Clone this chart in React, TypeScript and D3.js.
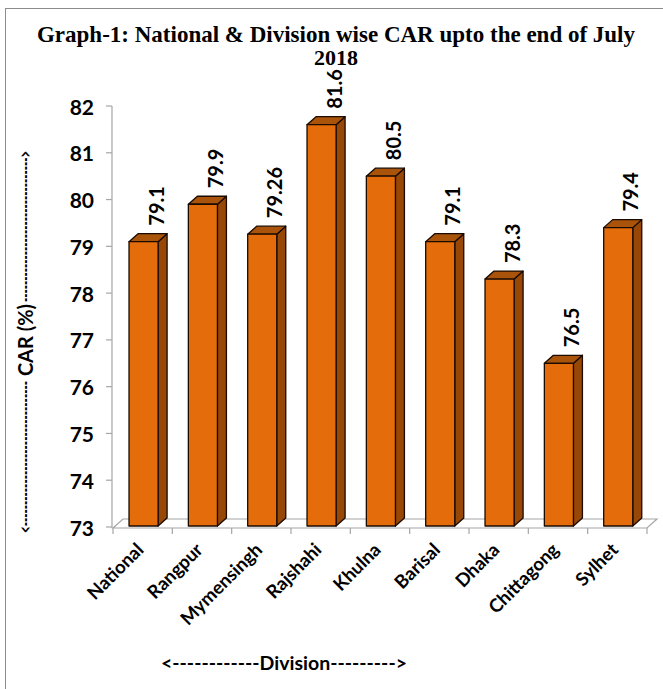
import React from 'react';
import * as d3 from 'd3';

const categories = ['National', 'Rangpur', 'Mymensingh', 'Rajshahi', 'Khulna', 'Barisal', 'Dhaka', 'Chittagong', 'Sylhet'];
const carValues = [79.1, 79.9, 79.26, 81.6, 80.5, 79.1, 78.3, 76.5, 79.4];
const yTicks = [73, 74, 75, 76, 77, 78, 79, 80, 81, 82];

const W = 663;
const H = 689;
const left = 113;
const right = 647;
const top = 106;
const bottom = 527;
const depthX = 10;
const depthY = 9;
const barDx = 9;
const barDy = 8;

const FRONT = '#E46C0A';
const SIDE = '#974706';
const TOPC = '#A9540A';
const GRID = '#A6A6A6';
const sans = 'Lato, "Open Sans", sans-serif';
const serif = '"Liberation Serif", "Times New Roman", serif';

const App = () => {
  const x = d3.scaleBand().domain(categories).range([left, right]).padding(0);
  const y = d3.scaleLinear().domain([73, 82]).range([bottom, top]);
  const bw = x.bandwidth();
  const barW = bw * 0.49;

  return (
    <svg width={W} height={H} style={{ position: 'absolute', left: 0, top: 0, background: '#fff' }}>
      <rect x={5.5} y={8.5} width={700} height={700} fill="#fff" stroke="#8c8c8c" strokeWidth={1} />

      <text x={336} y={42} textAnchor="middle" fontFamily={serif} fontWeight="bold" fontSize={23}>
        Graph-1: National &amp; Division wise CAR upto the end of July
      </text>
      <text x={336} y={65} textAnchor="middle" fontFamily={serif} fontWeight="bold" fontSize={22}>
        2018
      </text>

      {/* floor */}
      <path
        d={`M${left},${y(73) + 1}L${right},${y(73) + 1}L${right + depthX},${y(73) + 1 - depthY}L${left + depthX},${y(73) + 1 - depthY}Z`}
        fill="none"
        stroke={GRID}
        strokeWidth={1.2}
      />
      {/* y axis */}
      <line x1={left - 1} x2={left - 1} y1={top} y2={y(73) + 1} stroke={GRID} strokeWidth={1.2} />
      {yTicks.map((t) => (
        <g key={t}>
          <line x1={left - 7} x2={left - 1} y1={y(t)} y2={y(t)} stroke={GRID} strokeWidth={1.2} />
          <text x={94} y={y(t)} textAnchor="end" dominantBaseline="central" fontFamily={sans} fontWeight="bold" fontSize={21}>
            {t}
          </text>
        </g>
      ))}
      {/* x ticks */}
      {[...categories.map((c) => x(c) as number), right].map((tx, i) => (
        <line key={i} x1={tx} x2={tx} y1={y(73) + 1} y2={y(73) + 7} stroke={GRID} strokeWidth={1.2} />
      ))}

      {/* bars */}
      {categories.map((c, i) => {
        const v = carValues[i];
        const bx = (x(c) as number) + bw * 0.27;
        const by = y(v);
        const bb = y(73) - 1;
        return (
          <g key={c} stroke="#1a0a00" strokeWidth={1.3} strokeLinejoin="round">
            <path d={`M${bx + barW},${by}L${bx + barW + barDx},${by - barDy}L${bx + barW + barDx},${bb - barDy}L${bx + barW},${bb}Z`} fill={SIDE} />
            <path d={`M${bx},${by}L${bx + barDx},${by - barDy}L${bx + barW + barDx},${by - barDy}L${bx + barW},${by}Z`} fill={TOPC} />
            <rect x={bx} y={by} width={barW} height={bb - by} fill={FRONT} />
            <text
              transform={`translate(${bx + barW / 2 + 12},${by - 16}) rotate(-90)`}
              dominantBaseline="central"
              stroke="none"
              fill="#000"
              fontFamily={sans}
              fontWeight="bold"
              fontSize={20}
            >
              {String(v)}
            </text>
          </g>
        );
      })}

      {/* category labels */}
      {categories.map((c) => (
        <text
          key={c}
          transform={`translate(${(x(c) as number) + bw / 2 + 2},${y(73) + 24}) rotate(-45)`}
          textAnchor="end"
          fontFamily={sans}
          fontWeight="bold"
          fontSize={18.5}
        >
          {c}
        </text>
      ))}

      {/* y axis title */}
      <g transform="translate(25,342) rotate(-90)" fontFamily={sans} fontWeight="bold">
        <text x={-191} y={0} dominantBaseline="central" fontSize={18} textLength={152} lengthAdjust="spacingAndGlyphs">
          {'<' + '-'.repeat(34)}
        </text>
        <text x={2} y={0} textAnchor="middle" dominantBaseline="central" fontSize={20}>
          CAR (%)
        </text>
        <text x={40} y={0} dominantBaseline="central" fontSize={18} textLength={151} lengthAdjust="spacingAndGlyphs">
          {'-'.repeat(34) + '>'}
        </text>
      </g>

      <text x={284} y={662} textAnchor="middle" dominantBaseline="central" fontFamily={sans} fontWeight="bold" fontSize={19.5}>
        {'<' + '-'.repeat(12) + 'Division' + '-'.repeat(9) + '>'}
      </text>
    </svg>
  );
};

export default App;
